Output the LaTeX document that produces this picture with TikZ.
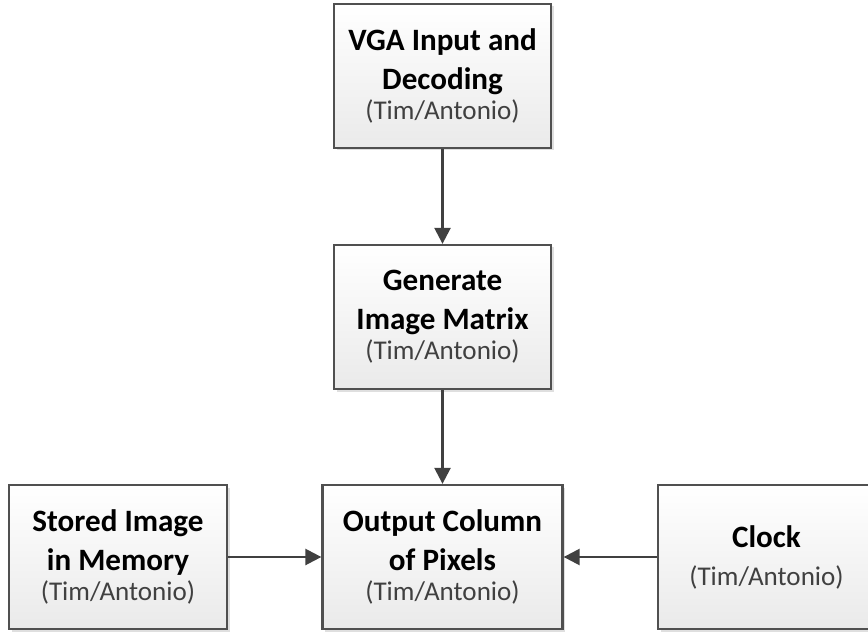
\documentclass[tikz,border=0pt]{standalone}
\usepackage{fontspec}
\setmainfont{Carlito}
\usepackage{xcolor}
\usepackage{tikz}
\usetikzlibrary{arrows.meta,shadows}

\definecolor{boxline}{RGB}{80,80,80}
\definecolor{arrowline}{RGB}{64,64,64}
\definecolor{subtext}{RGB}{64,64,64}
\definecolor{boxbottom}{RGB}{234,234,234}
\newcommand{\who}{{\fontsize{15.4}{17}\selectfont\mdseries\color{subtext}(Tim/Antonio)}}

\tikzset{
	task/.style={draw=boxline, line width=1.3pt, top color=white, bottom color=boxbottom,
		drop shadow={shadow xshift=0.05cm, shadow yshift=-0.05cm, opacity=0.25},
		minimum width=4.34cm, minimum height=2.88cm, align=center,
		font=\fontsize{17.7}{22.2}\selectfont\bfseries},
}

\begin{document}
\begin{tikzpicture}
		\useasboundingbox (0,0) rectangle (17.36,12.64);
		\node[task] (vga) at (8.85,11.12) {VGA Input and\\Decoding\\[-5.2pt]\who};
		\node[task] (matrix) at (8.85,6.30) {Generate\\Image Matrix\\[-5.2pt]\who};
		\node[task,minimum width=4.8cm] (output) at (8.85,1.50) {Output Column\\of Pixels\\[-5.2pt]\who};
		\node[task,minimum width=4.36cm] (stored) at (2.36,1.50) {Stored Image\\in Memory\\[-5.2pt]\who};
		\node[task] (clock) at (15.33,1.50) {Clock\\[-0.6pt]\who};
		%
		\path[->,color=arrowline,line width=1.4pt,>={Triangle[length=0.32cm,width=0.32cm]}]
		(vga) edge (matrix)
		(matrix) edge (output)
		(stored) edge (output)
		(clock) edge (output);
	\end{tikzpicture}
\end{document}
